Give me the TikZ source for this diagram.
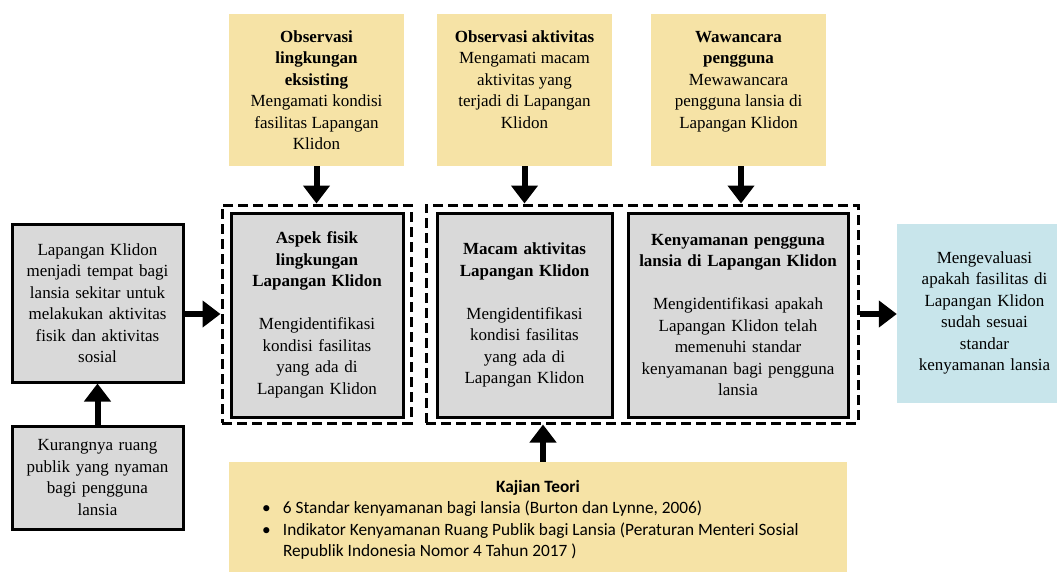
\documentclass[tikz,border=0pt]{standalone}
\usepackage{fontspec}
\setmainfont{Liberation Serif}
\newfontfamily\kfont{Carlito}
\usetikzlibrary{arrows.meta}
\definecolor{grayfill}{HTML}{D9D9D9}
\definecolor{yel}{HTML}{F6E3A6}
\definecolor{blu}{HTML}{C8E5EB}
\begin{document}
\begin{tikzpicture}[x=1pt,y=-1pt,
  every node/.style={font=\fontsize{17}{21.5}\selectfont},
  gbox/.style={draw=black, line width=3pt, fill=grayfill, align=center, inner sep=0pt},
  dbox/.style={draw=black, line width=3pt, dash pattern=on 10pt off 5pt, inner sep=0pt},
  ybox/.style={fill=yel, inner sep=0pt, minimum width=175pt},
  arr/.style={line width=6pt, -{Triangle[width=26pt,length=18pt]}},
]
\useasboundingbox (0,0) rectangle (1057,571);

% left column
\node[gbox, minimum width=171pt, minimum height=158pt, text width=165pt] (lt) at (97.5,303)
  {Lapangan Klidon\\menjadi tempat bagi\\lansia sekitar untuk\\melakukan aktivitas\\fisik dan aktivitas\\sosial};
\node[gbox, minimum width=171pt, minimum height=103pt, text width=165pt] (lb) at (97.5,477.5)
  {Kurangnya ruang\\publik yang nyaman\\bagi pengguna\\lansia};

% dashed groups
\node[dbox, minimum width=189pt, minimum height=218pt] (d1) at (316.5,314) {};
\node[dbox, minimum width=432pt, minimum height=218pt] (d2) at (642,314) {};

% inner boxes
\node[gbox, minimum width=172pt, minimum height=204pt, text width=166pt] (i1) at (317,315)
  {\textbf{Aspek fisik}\\\textbf{lingkungan}\\\textbf{Lapangan Klidon}\\[21.5pt]Mengidentifikasi\\kondisi fasilitas\\yang ada di\\Lapangan Klidon};
\node[gbox, minimum width=175pt, minimum height=204pt, text width=169pt] (i2) at (524.5,315)
  {\textbf{Macam aktivitas}\\\textbf{Lapangan Klidon}\\[21.5pt]Mengidentifikasi\\kondisi fasilitas\\yang ada di\\Lapangan Klidon};
\node[gbox, minimum width=220pt, minimum height=204pt, text width=214pt] (i3) at (738,315)
  {\textbf{Kenyamanan pengguna}\\\textbf{lansia di Lapangan Klidon}\\[21.5pt]Mengidentifikasi apakah\\Lapangan Klidon telah\\memenuhi standar\\kenyamanan bagi pengguna\\lansia};

% result box
\node[fill=blu, minimum width=175pt, minimum height=179pt, text width=170pt, align=center, inner sep=0pt] (bl) at (984.5,313)
  {Mengevaluasi\\apakah fasilitas di\\Lapangan Klidon\\sudah sesuai\\standar\\kenyamanan lansia};

% top yellow boxes
\node[ybox] (y1) at (316.5,90) {\parbox[c][152pt][t]{170pt}{\centering\rule{0pt}{28pt}\textbf{Observasi}\\\textbf{lingkungan}\\\textbf{eksisting}\\Mengamati kondisi\\fasilitas Lapangan\\Klidon}};
\node[ybox] (y2) at (524.5,90) {\parbox[c][152pt][t]{170pt}{\centering\rule{0pt}{28pt}\textbf{Observasi aktivitas}\\Mengamati macam\\aktivitas yang\\terjadi di Lapangan\\Klidon}};
\node[ybox] (y3) at (738.5,90) {\parbox[c][152pt][t]{170pt}{\centering\rule{0pt}{28pt}\textbf{Wawancara}\\\textbf{pengguna}\\Mewawancara\\pengguna lansia di\\Lapangan Klidon}};

% theory box
\node[fill=yel, inner sep=0pt] (kj) at (538,521) {\parbox[c][118pt][t]{618pt}{\kfont\fontsize{17.3}{21.5}\selectfont
  {\centering\rule{0pt}{30pt}\textbf{Kajian Teori}\par}
  \noindent\begin{tabular}[t]{@{\hspace{33pt}}p{21pt}@{}p{560pt}@{}}
  \textbullet & 6 Standar kenyamanan bagi lansia (Burton dan Lynne, 2006)\\
  \textbullet & Indikator Kenyamanan Ruang Publik bagi Lansia (Peraturan Menteri Sosial\newline Republik Indonesia Nomor 4 Tahun 2017 )
  \end{tabular}}};

% connectors
\draw[arr] (y1.south) -- (d1.north);
\draw[arr] (y2.south) -- (y2.south |- d2.north);
\draw[arr] ([xshift=2.5pt]y3.south) -- ([xshift=2.5pt]y3.south |- d2.north);
\draw[arr] ([xshift=5pt]kj.north) -- ([xshift=5pt]kj.north |- d2.south);
\draw[arr] (lb.north) -- (lt.south);
\draw[arr] (lt.east |- d1.west) -- (d1.west);
\draw[arr] (d2.east) -- (d2.east -| bl.west);
\end{tikzpicture}
\end{document}
